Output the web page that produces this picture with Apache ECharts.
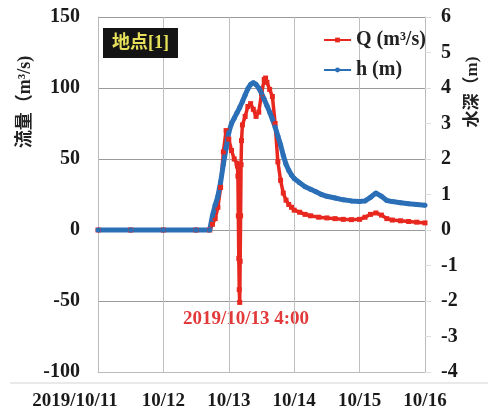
<!DOCTYPE html>
<html><head><meta charset="utf-8">
<script src="https://cdn.jsdelivr.net/npm/echarts@6/dist/echarts.min.js"></script>
<style>html,body{margin:0;padding:0;background:#fff}#c{width:488px;height:414px}</style>
</head><body><div id="c"></div>
<script>
const xTickLabels = ['2019/10/11','10/12','10/13','10/14','10/15','10/16'];
const leftTicks = [-100,-50,0,50,100,150];
const rightTicks = [-4,-3,-2,-1,0,1,2,3,4,5,6];

const qTimes = ['2019-10-11 00:00','2019-10-11 12:00','2019-10-12 00:00','2019-10-12 12:00','2019-10-12 17:00',
 '2019-10-12 18:00','2019-10-12 19:00','2019-10-12 20:00','2019-10-12 21:00','2019-10-12 22:00','2019-10-12 23:00',
 '2019-10-13 00:00','2019-10-13 01:00','2019-10-13 02:00','2019-10-13 03:00','2019-10-13 03:10','2019-10-13 03:20',
 '2019-10-13 03:30','2019-10-13 03:40','2019-10-13 03:50','2019-10-13 04:00','2019-10-13 04:10','2019-10-13 04:20',
 '2019-10-13 04:30','2019-10-13 04:40','2019-10-13 05:00','2019-10-13 06:00','2019-10-13 07:00','2019-10-13 08:00',
 '2019-10-13 09:00','2019-10-13 10:00','2019-10-13 11:00','2019-10-13 12:00','2019-10-13 13:00','2019-10-13 13:30',
 '2019-10-13 14:00','2019-10-13 15:00','2019-10-13 16:00','2019-10-13 17:00','2019-10-13 18:00','2019-10-13 19:00',
 '2019-10-13 20:00','2019-10-13 21:00','2019-10-13 22:00','2019-10-13 23:00','2019-10-14 00:00','2019-10-14 02:00',
 '2019-10-14 04:00','2019-10-14 06:00','2019-10-14 09:00','2019-10-14 12:00','2019-10-14 15:00','2019-10-14 18:00',
 '2019-10-14 21:00','2019-10-15 00:00','2019-10-15 02:00','2019-10-15 04:00','2019-10-15 06:00','2019-10-15 08:00',
 '2019-10-15 10:00','2019-10-15 12:00','2019-10-15 15:00','2019-10-15 18:00','2019-10-15 21:00','2019-10-16 00:00'];
const qValues = [0,0,0,0,0,
 4,8,16,30,55,70,
 64,56,50,47,45,38,
 10,-20,-42,-51,-22,10,
 46,63,74,80,87,89,
 85,80,83,96,106,107,
 104,99,94,75,48,35,
 26,21,18,16,14,12.5,
 11,10,9,8.5,8,7.5,
 7.3,7.5,9,11,12,10.5,
 8,7,6.5,6,5.5,5];

const hTimes = ['2019-10-11 00:00','2019-10-11 12:00','2019-10-12 00:00','2019-10-12 12:00','2019-10-12 17:00',
 '2019-10-12 18:00','2019-10-12 19:00','2019-10-12 20:00','2019-10-12 21:00','2019-10-12 22:00','2019-10-12 23:00',
 '2019-10-13 00:00','2019-10-13 01:00','2019-10-13 02:00','2019-10-13 03:00','2019-10-13 04:00','2019-10-13 05:00',
 '2019-10-13 06:00','2019-10-13 07:00','2019-10-13 08:00','2019-10-13 09:00','2019-10-13 10:00','2019-10-13 11:00',
 '2019-10-13 12:00','2019-10-13 13:00','2019-10-13 14:00','2019-10-13 15:00','2019-10-13 16:00','2019-10-13 17:00',
 '2019-10-13 18:00','2019-10-13 19:00','2019-10-13 20:00','2019-10-13 21:00','2019-10-13 22:00','2019-10-13 23:00',
 '2019-10-14 00:00','2019-10-14 02:00','2019-10-14 04:00','2019-10-14 06:00','2019-10-14 08:00','2019-10-14 10:00',
 '2019-10-14 12:00','2019-10-14 15:00','2019-10-14 18:00','2019-10-14 21:00','2019-10-15 00:00','2019-10-15 02:00',
 '2019-10-15 04:00','2019-10-15 06:00','2019-10-15 08:00','2019-10-15 10:00','2019-10-15 12:00','2019-10-15 15:00',
 '2019-10-15 18:00','2019-10-15 21:00','2019-10-16 00:00'];
const hValues = [0,0,0,0,0,
 0.4,0.7,0.95,1.35,1.85,2.3,
 2.75,3.0,3.15,3.3,3.45,3.62,
 3.8,3.98,4.1,4.15,4.1,4.0,
 3.85,3.68,3.5,3.32,3.12,2.9,
 2.65,2.4,2.1,1.85,1.68,1.55,
 1.45,1.33,1.22,1.15,1.08,1.0,
 0.95,0.9,0.85,0.82,0.8,0.82,
 0.92,1.04,0.95,0.83,0.8,0.77,
 0.74,0.72,0.7];

function toHours(s){
  const parts = s.split(' ');
  const day = +parts[0].split('-')[2];
  const hm = parts[1].split(':').map(Number);
  return (day-11)*24 + hm[0] + hm[1]/60;
}
const qData = qTimes.map((t,i)=>[toHours(t), qValues[i]]);
const hData = hTimes.map((t,i)=>[toHours(t), hValues[i]]);

const RED = '#e8281f', BLUE = '#2b6fb7';
const serif = 'Liberation Serif, Times New Roman, serif';
const cjk = 'Liberation Serif, Noto Sans CJK JP, serif';

const chart = echarts.init(document.getElementById('c'), null, {renderer:'canvas'});
chart.setOption({
  animation:false,
  backgroundColor:'#fff',
  grid:{left:98, right:63, top:17, bottom:42, containLabel:false},
  title:{text:'地点[1]', left:103, top:28, backgroundColor:'#141414', padding:[6,9,6,9],
    textStyle:{color:'#e6e05a', fontSize:18, fontWeight:'bold', fontFamily:cjk}},
  legend:{orient:'vertical', left:318, top:25, itemWidth:27, itemHeight:6, itemGap:10,
    data:['Q (m³/s)','h (m)'],
    lineStyle:{width:2},
    textStyle:{fontFamily:serif, fontWeight:'bold', fontSize:20, color:'#222', lineHeight:20, padding:[0,0,0,0]}},
  xAxis:{type:'value', min:0, max:120, interval:24,
    axisLine:{onZero:false, lineStyle:{color:'#bbb'}}, axisTick:{show:false},
    splitLine:{show:true, lineStyle:{color:'#bfbfbf', width:1}},
    axisLabel:{margin:20, fontFamily:serif, fontWeight:'bold', fontSize:19, color:'#1a1a1a',
      formatter:(v)=>{const i=Math.round(v/24); return i===0 ? '{first|'+xTickLabels[0]+'}' : xTickLabels[i];},
      rich:{first:{fontFamily:serif, fontWeight:'bold', fontSize:19, color:'#1a1a1a', padding:[0,46,0,0]}}}},
  yAxis:[
    {type:'value', min:-100, max:150, interval:50,
      axisLine:{show:true, lineStyle:{color:'#bbb'}}, axisTick:{show:false},
      splitLine:{show:true, lineStyle:{color:'#9a9a9a', width:1}},
      axisLabel:{margin:18, fontFamily:serif, fontWeight:'bold', fontSize:20, color:'#1a1a1a',
        formatter:(v)=>leftTicks.includes(v)?String(v):''}},
    {type:'value', min:-4, max:6, interval:1, position:'right',
      axisLine:{show:true, lineStyle:{color:'#bbb'}},
      axisTick:{show:true, length:6, lineStyle:{color:'#ddd'}},
      splitLine:{show:false},
      axisLabel:{margin:16, fontFamily:serif, fontWeight:'bold', fontSize:20, color:'#1a1a1a',
        formatter:(v)=>rightTicks.includes(v)?String(v):''}}
  ],
  series:[
    {name:'Q (m³/s)', type:'line', yAxisIndex:0, data:qData, color:RED,
      symbol:'rect', symbolSize:5, showAllSymbol:true,
      lineStyle:{width:3.5, color:RED}, itemStyle:{color:RED}},
    {name:'h (m)', type:'line', yAxisIndex:1, data:hData, color:BLUE,
      symbol:'circle', symbolSize:5, showAllSymbol:true,
      lineStyle:{width:5, color:BLUE}, itemStyle:{color:BLUE}}
  ],
  graphic:[
    {type:'line', shape:{x1:10, y1:383, x2:488, y2:383}, style:{stroke:'#e2e2e2', lineWidth:1.5}, silent:true},
    {type:'text', x:25, y:102, rotation:Math.PI/2,
      style:{text:'流量（m³/s)', font:'bold 18px Liberation Serif, Noto Sans CJK JP', fill:'#222', align:'center', verticalAlign:'middle'}},
    {type:'text', x:473, y:92, rotation:Math.PI/2,
      style:{text:'水深（m)', font:'bold 17px Liberation Serif, Noto Sans CJK JP', fill:'#222', align:'center', verticalAlign:'middle'}},
    {type:'text', x:246, y:319,
      style:{text:'2019/10/13 4:00', font:'bold 19px Liberation Serif', fill:'#e23a3a', align:'center', verticalAlign:'middle'}}
  ]
});
</script></body></html>
